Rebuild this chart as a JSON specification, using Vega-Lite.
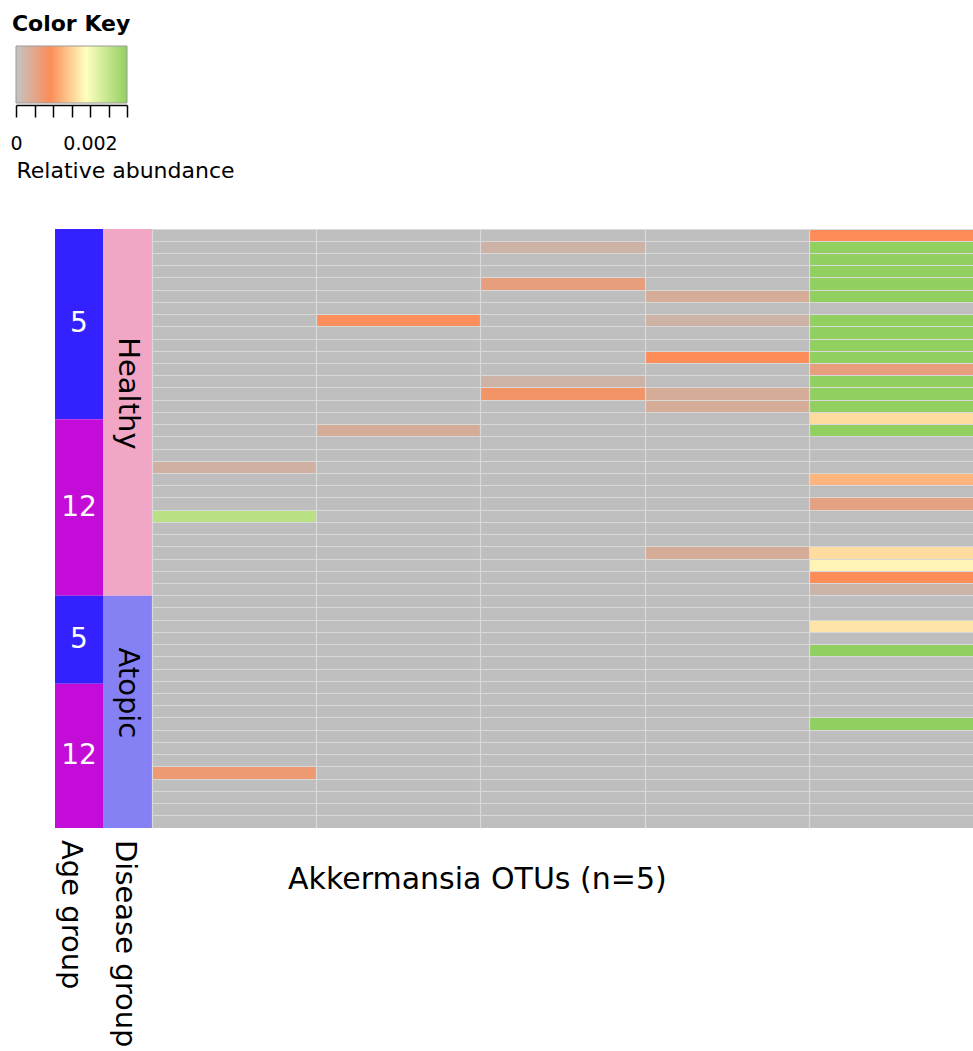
{
  "$schema": "https://vega.github.io/schema/vega-lite/v6.json",
  "background": "white",
  "padding": {"left": 9, "top": 12, "right": 0, "bottom": 0},
  "config": {"font": "DejaVu Sans", "view": {"stroke": null}},
  "spacing": 48,
  "resolve": {"scale": {"color": "independent"}},
  "vconcat": [
    {
      "width": 111,
      "height": 57,
      "title": {"text": "Color Key", "anchor": "start", "fontSize": 22, "fontWeight": "bold", "color": "black", "offset": 10, "dx": 2},
      "data": {"values": [{"lo": 0, "hi": 0.003}]},
      "mark": {
        "type": "rect",
        "stroke": "#9a9a9a",
        "strokeWidth": 1,
        "fill": {
          "gradient": "linear", "x1": 0, "y1": 0, "x2": 1, "y2": 0,
          "stops": [
            {"offset": 0, "color": "#c4c4c4"},
            {"offset": 0.31, "color": "#fc8d59"},
            {"offset": 0.63, "color": "#ffffbf"},
            {"offset": 1, "color": "#91cf60"}
          ]
        }
      },
      "encoding": {
        "x": {
          "field": "lo", "type": "quantitative",
          "scale": {"domain": [0, 0.003], "nice": false, "zero": false},
          "axis": {
            "values": [0, 0.0005, 0.001, 0.0015, 0.002, 0.0025, 0.003],
            "labelExpr": "datum.value == 0 ? '0' : (abs(datum.value - 0.002) < 1e-9 ? '0.002' : '')",
            "grid": false,
            "domainColor": "black", "domainWidth": 1.5,
            "tickColor": "black", "tickSize": 12, "tickWidth": 1.5,
            "offset": 2,
            "labelFontSize": 19, "labelColor": "black", "labelPadding": 17,
            "labelFlush": false, "labelOverlap": false,
            "title": "Relative abundance",
            "titleFontSize": 22, "titleFontWeight": "normal", "titleColor": "black",
            "titleAnchor": "start", "titleAlign": "left", "titlePadding": 7
          }
        },
        "x2": {"field": "hi"}
      }
    },
    {
      "spacing": 0,
      "resolve": {"scale": {"color": "independent"}},
      "hconcat": [
        {
          "width": 39,
          "height": 599,
          "data": {"values": [{"blank": 1}]},
          "mark": {"type": "rect", "opacity": 0},
          "encoding": {}
        },
        {
          "width": 48,
          "height": 599,
          "title": {"text": "Age group", "orient": "bottom", "anchor": "middle", "angle": 90, "align": "left", "baseline": "middle", "offset": 12, "dy": 8, "fontSize": 29, "fontWeight": "normal", "color": "black"},
          "data": {"values": [
            {"age": "5", "y0": 0, "y1": 15.57},
            {"age": "12", "y0": 15.57, "y1": 30},
            {"age": "5", "y0": 30, "y1": 37.2},
            {"age": "12", "y0": 37.2, "y1": 49}
          ]},
          "transform": [{"calculate": "(datum.y0 + datum.y1) / 2", "as": "mid"}],
          "layer": [
            {
              "mark": {"type": "rect"},
              "encoding": {
                "y": {
                  "field": "y0", "type": "quantitative",
                  "scale": {"domain": [0, 49], "reverse": true, "nice": false, "zero": false},
                  "axis": null
                },
                "y2": {"field": "y1"},
                "color": {"field": "age", "type": "nominal", "scale": {"domain": ["5", "12"], "range": ["#3322ff", "#c40cd8"]}, "legend": null}
              }
            },
            {
              "mark": {"type": "text", "color": "white", "fontSize": 28, "baseline": "middle", "align": "center"},
              "encoding": {
                "y": {"field": "mid", "type": "quantitative", "axis": null},
                "text": {"field": "age"}
              }
            }
          ]
        },
        {
          "width": 49,
          "height": 599,
          "title": {"text": "Disease group", "orient": "bottom", "anchor": "middle", "angle": 90, "align": "left", "baseline": "middle", "offset": 12, "dy": 3, "fontSize": 29, "fontWeight": "normal", "color": "black"},
          "data": {"values": [
            {"disease": "Healthy", "y0": 0, "y1": 30},
            {"disease": "Atopic", "y0": 30, "y1": 49}
          ]},
          "transform": [{"calculate": "(datum.y0 + datum.y1) / 2", "as": "mid"}],
          "layer": [
            {
              "mark": {"type": "rect"},
              "encoding": {
                "y": {
                  "field": "y0", "type": "quantitative",
                  "scale": {"domain": [0, 49], "reverse": true, "nice": false, "zero": false},
                  "axis": null
                },
                "y2": {"field": "y1"},
                "color": {"field": "disease", "type": "nominal", "scale": {"domain": ["Healthy", "Atopic"], "range": ["#f2a6c6", "#8680f5"]}, "legend": null}
              }
            },
            {
              "mark": {"type": "text", "color": "black", "fontSize": 29, "angle": 90, "baseline": "middle", "align": "center", "dx": -19},
              "encoding": {
                "y": {"field": "mid", "type": "quantitative", "axis": null},
                "text": {"field": "disease"}
              }
            }
          ]
        },
        {
          "width": 822,
          "height": 599,
          "title": {"text": "Akkermansia OTUs (n=5)", "orient": "bottom", "anchor": "start", "dx": 136, "offset": 37, "fontSize": 30, "fontWeight": "normal", "color": "black"},
          "data": {"values": [
            {"s": 1, "o1": 0, "o2": 0, "o3": 0, "o4": 0, "o5": 0.00093},
            {"s": 2, "o1": 0, "o2": 0, "o3": 0.00022, "o4": 0, "o5": 0.003},
            {"s": 3, "o1": 0, "o2": 0, "o3": 0, "o4": 0, "o5": 0.003},
            {"s": 4, "o1": 0, "o2": 0, "o3": 0, "o4": 0, "o5": 0.003},
            {"s": 5, "o1": 0, "o2": 0, "o3": 0.0006, "o4": 0, "o5": 0.003},
            {"s": 6, "o1": 0, "o2": 0, "o3": 0, "o4": 0.00035, "o5": 0.003},
            {"s": 7, "o1": 0, "o2": 0, "o3": 0, "o4": 0, "o5": 0},
            {"s": 8, "o1": 0, "o2": 0.0009, "o3": 0, "o4": 0.00022, "o5": 0.003},
            {"s": 9, "o1": 0, "o2": 0, "o3": 0, "o4": 0, "o5": 0.003},
            {"s": 10, "o1": 0, "o2": 0, "o3": 0, "o4": 0, "o5": 0.003},
            {"s": 11, "o1": 0, "o2": 0, "o3": 0, "o4": 0.00093, "o5": 0.003},
            {"s": 12, "o1": 0, "o2": 0, "o3": 0, "o4": 0, "o5": 0.0006},
            {"s": 13, "o1": 0, "o2": 0, "o3": 0.00022, "o4": 0, "o5": 0.003},
            {"s": 14, "o1": 0, "o2": 0, "o3": 0.0008, "o4": 0.00035, "o5": 0.003},
            {"s": 15, "o1": 0, "o2": 0, "o3": 0, "o4": 0.00035, "o5": 0.003},
            {"s": 16, "o1": 0, "o2": 0, "o3": 0, "o4": 0, "o5": 0.00159},
            {"s": 17, "o1": 0, "o2": 0.00035, "o3": 0, "o4": 0, "o5": 0.003},
            {"s": 18, "o1": 0, "o2": 0, "o3": 0, "o4": 0, "o5": 0},
            {"s": 19, "o1": 0, "o2": 0, "o3": 0, "o4": 0, "o5": 0},
            {"s": 20, "o1": 0.00027, "o2": 0, "o3": 0, "o4": 0, "o5": 0},
            {"s": 21, "o1": 0, "o2": 0, "o3": 0, "o4": 0, "o5": 0.00127},
            {"s": 22, "o1": 0, "o2": 0, "o3": 0, "o4": 0, "o5": 0},
            {"s": 23, "o1": 0, "o2": 0, "o3": 0, "o4": 0, "o5": 0.00055},
            {"s": 24, "o1": 0.0026, "o2": 0, "o3": 0, "o4": 0, "o5": 0},
            {"s": 25, "o1": 0, "o2": 0, "o3": 0, "o4": 0, "o5": 0},
            {"s": 26, "o1": 0, "o2": 0, "o3": 0, "o4": 0, "o5": 0},
            {"s": 27, "o1": 0, "o2": 0, "o3": 0, "o4": 0.00035, "o5": 0.00159},
            {"s": 28, "o1": 0, "o2": 0, "o3": 0, "o4": 0, "o5": 0.00181},
            {"s": 29, "o1": 0, "o2": 0, "o3": 0, "o4": 0, "o5": 0.00093},
            {"s": 30, "o1": 0, "o2": 0, "o3": 0, "o4": 0, "o5": 0.00019},
            {"s": 31, "o1": 0, "o2": 0, "o3": 0, "o4": 0, "o5": 0},
            {"s": 32, "o1": 0, "o2": 0, "o3": 0, "o4": 0, "o5": 0},
            {"s": 33, "o1": 0, "o2": 0, "o3": 0, "o4": 0, "o5": 0.00167},
            {"s": 34, "o1": 0, "o2": 0, "o3": 0, "o4": 0, "o5": 0},
            {"s": 35, "o1": 0, "o2": 0, "o3": 0, "o4": 0, "o5": 0.003},
            {"s": 36, "o1": 0, "o2": 0, "o3": 0, "o4": 0, "o5": 0},
            {"s": 37, "o1": 0, "o2": 0, "o3": 0, "o4": 0, "o5": 0},
            {"s": 38, "o1": 0, "o2": 0, "o3": 0, "o4": 0, "o5": 0},
            {"s": 39, "o1": 0, "o2": 0, "o3": 0, "o4": 0, "o5": 0},
            {"s": 40, "o1": 0, "o2": 0, "o3": 0, "o4": 0, "o5": 0},
            {"s": 41, "o1": 0, "o2": 0, "o3": 0, "o4": 0, "o5": 0.003},
            {"s": 42, "o1": 0, "o2": 0, "o3": 0, "o4": 0, "o5": 0},
            {"s": 43, "o1": 0, "o2": 0, "o3": 0, "o4": 0, "o5": 0},
            {"s": 44, "o1": 0, "o2": 0, "o3": 0, "o4": 0, "o5": 0},
            {"s": 45, "o1": 0.0007, "o2": 0, "o3": 0, "o4": 0, "o5": 0},
            {"s": 46, "o1": 0, "o2": 0, "o3": 0, "o4": 0, "o5": 0},
            {"s": 47, "o1": 0, "o2": 0, "o3": 0, "o4": 0, "o5": 0},
            {"s": 48, "o1": 0, "o2": 0, "o3": 0, "o4": 0, "o5": 0},
            {"s": 49, "o1": 0, "o2": 0, "o3": 0, "o4": 0, "o5": 0}
          ]},
          "transform": [{"fold": ["o1", "o2", "o3", "o4", "o5"], "as": ["otu", "v"]}],
          "mark": {"type": "rect"},
          "encoding": {
            "x": {
              "field": "otu", "type": "nominal",
              "scale": {"paddingInner": 0, "paddingOuter": 0},
              "axis": {"labels": false, "ticks": false, "domain": false, "grid": true, "gridColor": "#d9d9d9", "gridWidth": 1.2, "bandPosition": 0, "zindex": 1, "title": null}
            },
            "y": {
              "field": "s", "type": "ordinal",
              "scale": {"paddingInner": 0, "paddingOuter": 0},
              "axis": {"labels": false, "ticks": false, "domain": false, "grid": true, "gridColor": "#d9d9d9", "gridWidth": 1.2, "bandPosition": 0, "zindex": 1, "title": null}
            },
            "color": {
              "field": "v", "type": "quantitative",
              "scale": {"domain": [0, 0.00093, 0.0019, 0.003], "range": ["#bebebe", "#fc8d59", "#ffffbf", "#91cf60"], "interpolate": "rgb", "clamp": true},
              "legend": null
            }
          }
        }
      ]
    }
  ]
}
